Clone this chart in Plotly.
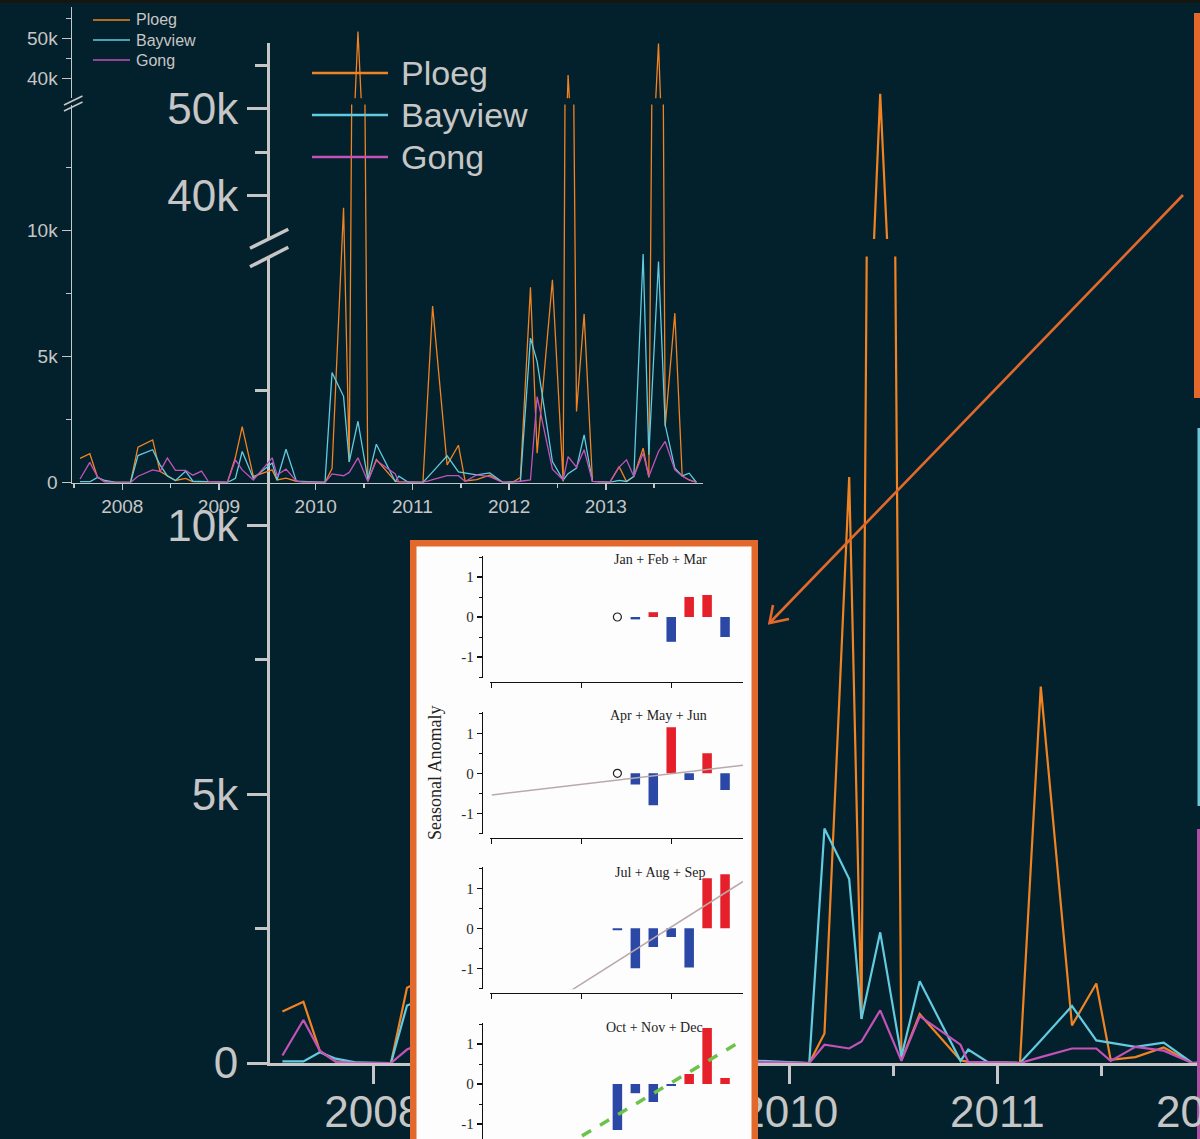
import plotly.graph_objects as go

W, H = 1200, 1139
BG = "#03212c"
AX = "#c6c6c6"
FONT = "Liberation Sans, Arial, sans-serif"
SERIF = "Liberation Serif, Times New Roman, serif"


def fx(x):
    return x / W


def fy(y):
    return 1 - y / H


# ---------------- data: counts per sampling date ----------------
dates = [2007.563, 2007.664, 2007.743, 2007.82, 2007.92, 2008.085, 2008.162, 2008.314,
         2008.39, 2008.466, 2008.55, 2008.655, 2008.73, 2008.82, 2008.89, 2009.086,
         2009.17, 2009.24, 2009.355, 2009.55, 2009.60, 2009.693, 2009.80, 2009.855,
         2010.096, 2010.169, 2010.288, 2010.347, 2010.437, 2010.539, 2010.627, 2010.823,
         2010.86, 2010.957, 2011.109, 2011.209, 2011.359, 2011.476, 2011.545, 2011.664,
         2011.80, 2011.937, 2012.04, 2012.117, 2012.221, 2012.29, 2012.448, 2012.559,
         2012.61, 2012.697, 2012.776, 2012.862, 2013.04, 2013.138, 2013.214, 2013.29,
         2013.386, 2013.445, 2013.545, 2013.614, 2013.714, 2013.79, 2013.862, 2013.938]
ploeg = [960, 1140, 220, 30, 0, 0, 1400, 1690, 440, 260, 80, 160, 30, 20, 20, 0,
         1000, 2220, 240, 500, 100, 170, 50, 20, 0, 550, 10900, 820, 51700, 50, 910, 50,
         20, 10, 0, 7000, 700, 1480, 60, 110, 290, 0, 20, 200, 7750, 1160, 8040, 40,
         40800, 2820, 6690, 40, 0, 630, 40, 240, 1360, 200, 48700, 2220, 6720, 260, 100, 0]
bayview = [30, 30, 200, 80, 10, 0, 1070, 1300, 700, 260, 80, 450, 50, 30, 20, 0,
           170, 1230, 170, 770, 100, 1320, 50, 40, 0, 4360, 3420, 820, 2430, 120, 1520, 40,
           250, 10, 0, 420, 1060, 420, 380, 300, 380, 0, 20, 40, 5730, 4800, 830, 100,
           350, 570, 1890, 40, 0, 80, 40, 240, 9070, 1100, 8770, 2290, 570, 260, 370, 0]
gong = [140, 800, 230, 20, 0, 0, 250, 500, 440, 970, 480, 480, 290, 450, 40, 0,
        900, 500, 100, 980, 300, 530, 50, 20, 0, 340, 270, 400, 980, 40, 870, 340,
        20, 10, 0, 110, 270, 270, 40, 300, 230, 0, 10, 50, 100, 3410, 530, 100,
        1030, 610, 1300, 40, 0, 610, 900, 240, 1160, 240, 1230, 1630, 500, 260, 100, 0]

series_names = ["Ploeg", "Bayview", "Gong"]
series_values = [ploeg, bayview, gong]
series_colors = ["#f28322", "#62cbe0", "#c452b8"]

year_ticks = [2008, 2009, 2010, 2011, 2012, 2013]
half_year_ticks = [2007.5, 2008.5, 2009.5, 2010.5, 2011.5, 2012.5, 2013.5]
low_ticks = [0, 5000, 10000]
low_labels = ["0", "5k", "10k"]
low_minor = [2500, 7500, 12500]
high_ticks = [40000, 50000]
high_labels = ["40k", "50k"]
high_minor = [45000, 55000]

# seasonal anomaly inset
bar_years = [2007, 2008, 2009, 2010, 2011, 2012, 2013]
season_titles = ["Jan + Feb + Mar", "Apr + May + Jun", "Jul + Aug + Sep", "Oct + Nov + Dec"]
jfm = [None, -0.06, 0.12, -0.62, 0.50, 0.55, -0.50]
amj = [None, -0.28, -0.80, 1.15, -0.17, 0.50, -0.42]
jas = [-0.05, -1.00, -0.47, -0.22, -0.98, 1.25, 1.35]
ond = [-1.15, -0.23, -0.45, -0.05, 0.25, 1.40, 0.15]
season_values = [jfm, amj, jas, ond]
circle_years = [[2007], [2007], [], []]
circle_values = [[0], [0], [], []]
trend_x = [2000, 2014]
trend_y = [None, [-0.54, 0.20], [-2.81, 1.17], [-2.64, 1.10]]
trend_style = [None,
               dict(color="#bba9a9", width=1.5),
               dict(color="#bba9a9", width=1.5),
               dict(color="#6cc24a", width=3.5, dash="dash")]

fig = go.Figure()

# big (zoomed) chart: lower and upper segment of the broken axis
for name, vals, col in zip(series_names, series_values, series_colors):
    for ya in ("y", "y2"):
        fig.add_trace(go.Scatter(x=dates, y=vals, xaxis="x", yaxis=ya, mode="lines",
                                 line=dict(color=col, width=2.2), name=name,
                                 showlegend=False, hoverinfo="skip"))

# small overview chart
for name, vals, col in zip(series_names, series_values, series_colors):
    for ya in ("y3", "y4"):
        fig.add_trace(go.Scatter(x=dates, y=vals, xaxis="x2", yaxis=ya, mode="lines",
                                 line=dict(color=col, width=1.3), name=name,
                                 showlegend=False, hoverinfo="skip"))

# white inset panel (drawn as its own subplot so it covers the charts beneath)
P_L, P_R, P_T, P_B, P_W = 410, 758, 540, 1149, 6.5
cx0, cx1 = P_L + P_W / 2, P_R - P_W / 2
cy1, cy0 = P_T + P_W / 2, P_B
fig.add_trace(go.Scatter(x=[0, 1, 1, 0, 0], y=[0, 0, 1, 1, 0], xaxis="x3", yaxis="y5",
                         mode="lines", fill="toself", fillcolor="#fdfdfd",
                         line=dict(color="#e2692b", width=P_W), showlegend=False,
                         hoverinfo="skip"))

RED, BLUE = "#e5202a", "#2b48a6"
for i in range(4):
    xa, ya = f"x{4 + i}", f"y{6 + i}"
    vals = season_values[i]
    cols = [RED if (v is not None and v > 0) else BLUE for v in vals]
    fig.add_trace(go.Bar(x=bar_years, y=vals, xaxis=xa, yaxis=ya, width=0.53,
                         marker=dict(color=cols, line=dict(width=0)),
                         showlegend=False, hoverinfo="skip"))
    if circle_years[i]:
        fig.add_trace(go.Scatter(x=circle_years[i], y=circle_values[i], xaxis=xa, yaxis=ya,
                                 mode="markers",
                                 marker=dict(symbol="circle-open", size=8, color="#222",
                                             line=dict(width=1.2)),
                                 showlegend=False, hoverinfo="skip"))
    if trend_y[i]:
        fig.add_trace(go.Scatter(x=trend_x, y=trend_y[i], xaxis=xa, yaxis=ya, mode="lines",
                                 line=trend_style[i], showlegend=False, hoverinfo="skip"))

layout = dict(
    width=W, height=H, margin=dict(l=0, r=0, t=0, b=0, autoexpand=False), autosize=False,
    paper_bgcolor=BG, plot_bgcolor="rgba(0,0,0,0)",
    font=dict(family=FONT, color=AX), hovermode=False, showlegend=False,
)

common = dict(showgrid=False, zeroline=False, showline=True, linecolor=AX,
              tickcolor=AX, ticks="outside", fixedrange=True, automargin=False)

# big chart axes
bx0 = 2008 - (373.3 - 270) / 208.0
bx1 = 2008 + (1200 - 373.3) / 208.0
layout["xaxis"] = dict(common, domain=[fx(270), 1], range=[bx0, bx1], anchor="y",
                       linewidth=3, tickwidth=3, ticklen=18, ticklabelstandoff=-10,
                       tickmode="array", tickvals=year_ticks, ticktext=[str(v) for v in year_ticks],
                       tickfont=dict(size=44, color=AX),
                       minor=dict(tickmode="array", tickvals=half_year_ticks, ticklen=10,
                                  tickwidth=3, tickcolor=AX, ticks="outside"))
layout["yaxis"] = dict(common, domain=[fy(1063), fy(256.5)], range=[0, 15000], anchor="x",
                       linewidth=3, tickwidth=3, ticklen=20,
                       tickmode="array", tickvals=low_ticks, ticktext=low_labels,
                       tickfont=dict(size=44, color=AX),
                       minor=dict(tickmode="array", tickvals=low_minor, ticklen=12,
                                  tickwidth=3, tickcolor=AX, ticks="outside"))
layout["yaxis2"] = dict(common, domain=[fy(239), fy(42.7)],
                        range=[35000, 35000 + (239 - 42.7) / 8.7 * 1000], anchor="x",
                        linewidth=3, tickwidth=3, ticklen=20,
                        tickmode="array", tickvals=high_ticks, ticktext=high_labels,
                        tickfont=dict(size=44, color=AX),
                        minor=dict(tickmode="array", tickvals=high_minor, ticklen=12,
                                   tickwidth=3, tickcolor=AX, ticks="outside"))

# small chart axes
sx0 = 2008 - (122.3 - 72) / 96.7
sx1 = 2008 + (703 - 122.3) / 96.7
layout["xaxis2"] = dict(common, domain=[fx(72), fx(703)], range=[sx0, sx1], anchor="y3",
                        linewidth=1.5, tickwidth=1.5, ticklen=6,
                        tickmode="array", tickvals=year_ticks, ticktext=[str(v) for v in year_ticks],
                        tickfont=dict(size=19, color=AX),
                        minor=dict(tickmode="array", tickvals=half_year_ticks, ticklen=4,
                                   tickwidth=1.5, tickcolor=AX, ticks="outside"))
layout["yaxis3"] = dict(common, domain=[fy(482.5), fy(104.5)], range=[0, 15000], anchor="x2",
                        linewidth=1.5, tickwidth=1.5, ticklen=9,
                        tickmode="array", tickvals=low_ticks, ticktext=low_labels,
                        tickfont=dict(size=19, color=AX),
                        minor=dict(tickmode="array", tickvals=low_minor, ticklen=5,
                                   tickwidth=1.5, tickcolor=AX, ticks="outside"))
layout["yaxis4"] = dict(common, domain=[fy(98.3), fy(6.7)],
                        range=[35000, 35000 + (98.3 - 6.7) / 4.0 * 1000], anchor="x2",
                        linewidth=1.5, tickwidth=1.5, ticklen=9,
                        tickmode="array", tickvals=high_ticks, ticktext=high_labels,
                        tickfont=dict(size=19, color=AX),
                        minor=dict(tickmode="array", tickvals=high_minor, ticklen=5,
                                   tickwidth=1.5, tickcolor=AX, ticks="outside"))

# panel axes (unit square mapped onto the panel rectangle)
dx0, dx1, dy_top = 400, 768, 530
ux = (cx1 - cx0)
uy = (cy0 - cy1)
layout["xaxis3"] = dict(domain=[fx(dx0), fx(dx1)], anchor="y5", visible=False, fixedrange=True,
                        automargin=False, range=[(dx0 - cx0) / ux, (dx1 - cx0) / ux])
layout["yaxis5"] = dict(domain=[0, fy(dy_top)], anchor="x3", visible=False, fixedrange=True,
                        automargin=False, range=[(cy0 - H) / uy, (cy0 - dy_top) / uy])

# seasonal bar subplots
ZEROS = [617, 773.3, 928.3, 1084]
PPU = 40.0
YTOP = 1.525
for i in range(4):
    z = ZEROS[i]
    top_px = z - YTOP * PPU
    bot_px = min(z + YTOP * PPU, H)
    last = (i == 3)
    layout[f"yaxis{6 + i}"] = dict(
        domain=[fy(bot_px), fy(top_px)], range=[(z - bot_px) / PPU, YTOP],
        anchor="free", position=fx(481.7), showgrid=False, zeroline=False, fixedrange=True,
        automargin=False,
        showline=True, linecolor="#111", linewidth=1.5, ticks="outside", ticklen=5,
        tickwidth=1.2, tickcolor="#111", tickmode="array", tickvals=[-1, 0, 1],
        ticktext=["-1", "0", "1"], tickfont=dict(family=SERIF, size=15, color="#2a2a2a"),
        minor=dict(tickmode="array", tickvals=[-1.5, -0.5, 0.5, 1.5], ticklen=3,
                   tickwidth=1, tickcolor="#111", ticks="outside"))
    layout[f"xaxis{4 + i}"] = dict(
        domain=[fx(490), fx(743)], range=[1999.9, 2014.0], anchor="free",
        position=max(fy(z + YTOP * PPU + 3.5), 0), showgrid=False, zeroline=False,
        fixedrange=True, automargin=False, showline=not last, linecolor="#111", linewidth=1.5,
        ticks="" if last else "outside", ticklen=5, tickwidth=1.2, tickcolor="#111",
        tickmode="array", tickvals=[2000, 2005, 2010], showticklabels=False)

fig.update_layout(**layout)

# annotations
ann = []
title_pos = [(660, 560), (658, 715), (660, 872), (654, 1027)]
for t, (x, y) in zip(season_titles, title_pos):
    ann.append(dict(text=t, x=fx(x), y=fy(y), xref="paper", yref="paper", showarrow=False,
                    font=dict(family=SERIF, size=14, color="#222"), xanchor="center",
                    yanchor="middle"))
ann.append(dict(text="Seasonal Anomaly", x=fx(435), y=fy(773), xref="paper", yref="paper",
                showarrow=False, textangle=-90, font=dict(family=SERIF, size=18, color="#222"),
                xanchor="center", yanchor="middle"))
shapes = []
# legends (big and small)
for (lx0, lx1, ltx, ys, fs, lw) in [(312, 388, 399, [73, 115, 157], 34, 2.5),
                                    (93, 130, 134, [20, 40, 60], 16, 1.3)]:
    for name, col, y in zip(series_names, series_colors, ys):
        shapes.append(dict(type="line", xref="paper", yref="paper", x0=fx(lx0), x1=fx(lx1),
                           y0=fy(y), y1=fy(y), line=dict(color=col, width=lw), layer="above"))
        ann.append(dict(text=name, x=fx(ltx), y=fy(y), xref="paper", yref="paper",
                        showarrow=False, xanchor="left", yanchor="middle",
                        font=dict(size=fs, color=AX)))
# partially visible 2012 label of the big axis (tick lies just past the right edge)
x2012 = 373.3 + (2012 - 2008) * 208.0
ann.append(dict(text="2012", x=fx(x2012), y=fy(1111), xref="paper", yref="paper",
                showarrow=False, xanchor="center", yanchor="middle",
                font=dict(size=44, color=AX)))

# axis-break marks
for (x0, y0, x1, y1, w) in [(250, 248.3, 288.3, 229.3, 3.5), (250, 266.7, 288.3, 247.3, 3.5),
                            (64, 105, 82.5, 96, 1.6), (64, 111, 82.5, 102, 1.6)]:
    shapes.append(dict(type="line", xref="paper", yref="paper", x0=fx(x0), y0=fy(y0),
                       x1=fx(x1), y1=fy(y1), line=dict(color=AX, width=w), layer="above"))
# orange arrow
ORANGE = "#e2692b"
shapes.append(dict(type="path", xref="paper", yref="paper",
                   path=f"M {fx(1183)},{fy(195)} L {fx(769.5)},{fy(623)}",
                   line=dict(color=ORANGE, width=2.6), layer="above"))
shapes.append(dict(type="path", xref="paper", yref="paper",
                   path=f"M {fx(773)},{fy(605)} L {fx(769.5)},{fy(623)} L {fx(789)},{fy(619)}",
                   line=dict(color=ORANGE, width=2.6), layer="above"))
# right-edge coloured bars
for (x0, x1, y0, y1, c) in [(1194, 1201, 13, 398, ORANGE), (1197.5, 1201, 428, 806, "#6cc6d8"),
                            (1197, 1201, 829, 1140, "#b04ea2")]:
    shapes.append(dict(type="rect", xref="paper", yref="paper", x0=fx(x0), x1=fx(x1),
                       y0=fy(y1), y1=fy(y0), fillcolor=c, line=dict(width=0), layer="above"))
# dark strip at the very top
shapes.append(dict(type="rect", xref="paper", yref="paper", x0=0, x1=1, y0=fy(3), y1=1,
                   fillcolor="#15160f", line=dict(width=0), layer="above"))

fig.update_layout(annotations=ann, shapes=shapes)

POST = (
    "document.documentElement.style.margin='0px';"
    "document.body.style.margin='0px';"
    "document.body.style.overflow='hidden';"
    "document.body.style.background='" + BG + "';"
)
fig.write_html("out.html", config={"displayModeBar": False, "staticPlot": True},
               post_script=POST)
